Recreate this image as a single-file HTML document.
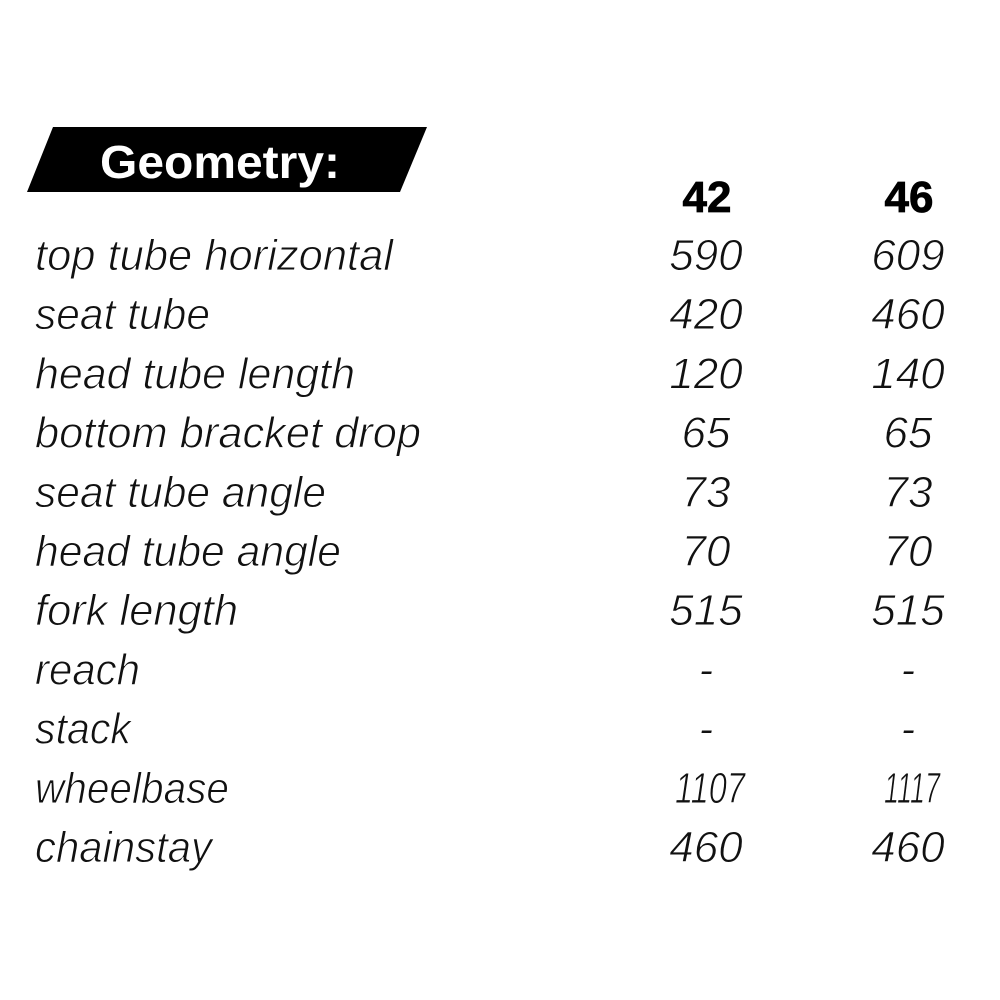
<!DOCTYPE html>
<html>
<head>
<meta charset="utf-8">
<style>
  html,body{margin:0;padding:0;background:#fff;}
  svg{display:block;}
  .lbl{font-family:"Liberation Sans",sans-serif;font-style:italic;font-size:43.5px;fill:#111;stroke:#fff;stroke-width:0.9px;}
  .num{font-family:"Liberation Sans",sans-serif;font-style:italic;font-size:44px;fill:#111;text-anchor:middle;stroke:#fff;stroke-width:0.9px;}
  .hdr{font-family:"Liberation Sans",sans-serif;font-weight:bold;font-size:44px;fill:#000;text-anchor:middle;stroke:#000;stroke-width:0.8px;}
</style>
</head>
<body>
<svg width="1000" height="1000" viewBox="0 0 1000 1000" xmlns="http://www.w3.org/2000/svg">
  <rect width="1000" height="1000" fill="#fff"/>
  <polygon points="53,127 427,127 400,192 27,192" fill="#000"/>
  <text x="100" y="178" font-family="Liberation Sans, sans-serif" font-weight="bold" font-size="46" fill="#fff" textLength="240" lengthAdjust="spacingAndGlyphs">Geometry:</text>

  <text class="hdr" x="707" y="212">42</text>
  <text class="hdr" x="909" y="212">46</text>

  <text class="lbl" x="35" y="270" textLength="358" lengthAdjust="spacingAndGlyphs">top tube horizontal</text>
  <text class="lbl" x="35" y="329.2" textLength="175" lengthAdjust="spacingAndGlyphs">seat tube</text>
  <text class="lbl" x="35" y="388.4" textLength="320" lengthAdjust="spacingAndGlyphs">head tube length</text>
  <text class="lbl" x="35" y="447.6" textLength="386" lengthAdjust="spacingAndGlyphs">bottom bracket drop</text>
  <text class="lbl" x="35" y="506.8" textLength="291" lengthAdjust="spacingAndGlyphs">seat tube angle</text>
  <text class="lbl" x="35" y="566" textLength="306" lengthAdjust="spacingAndGlyphs">head tube angle</text>
  <text class="lbl" x="35" y="625.2" textLength="203" lengthAdjust="spacingAndGlyphs">fork length</text>
  <text class="lbl" x="35" y="684.4" textLength="105" lengthAdjust="spacingAndGlyphs">reach</text>
  <text class="lbl" x="35" y="743.6" textLength="96" lengthAdjust="spacingAndGlyphs">stack</text>
  <text class="lbl" x="35" y="802.8" textLength="194" lengthAdjust="spacingAndGlyphs">wheelbase</text>
  <text class="lbl" x="35" y="862" textLength="177" lengthAdjust="spacingAndGlyphs">chainstay</text>

  <text class="num" x="706" y="270">590</text>
  <text class="num" x="908" y="270">609</text>
  <text class="num" x="706" y="329.2">420</text>
  <text class="num" x="908" y="329.2">460</text>
  <text class="num" x="706" y="388.4">120</text>
  <text class="num" x="908" y="388.4">140</text>
  <text class="num" x="706" y="447.6">65</text>
  <text class="num" x="908" y="447.6">65</text>
  <text class="num" x="706" y="506.8">73</text>
  <text class="num" x="908" y="506.8">73</text>
  <text class="num" x="706" y="566">70</text>
  <text class="num" x="908" y="566">70</text>
  <text class="num" x="706" y="625.2">515</text>
  <text class="num" x="908" y="625.2">515</text>
  <text class="num" x="706" y="684.4">-</text>
  <text class="num" x="908" y="684.4">-</text>
  <text class="num" x="706" y="743.6">-</text>
  <text class="num" x="908" y="743.6">-</text>
  <text class="num" x="710" y="802.8" textLength="70" lengthAdjust="spacingAndGlyphs">1107</text>
  <text class="num" x="912" y="802.8" textLength="56" lengthAdjust="spacingAndGlyphs">1117</text>
  <text class="num" x="706" y="862">460</text>
  <text class="num" x="908" y="862">460</text>
</svg>
</body>
</html>
